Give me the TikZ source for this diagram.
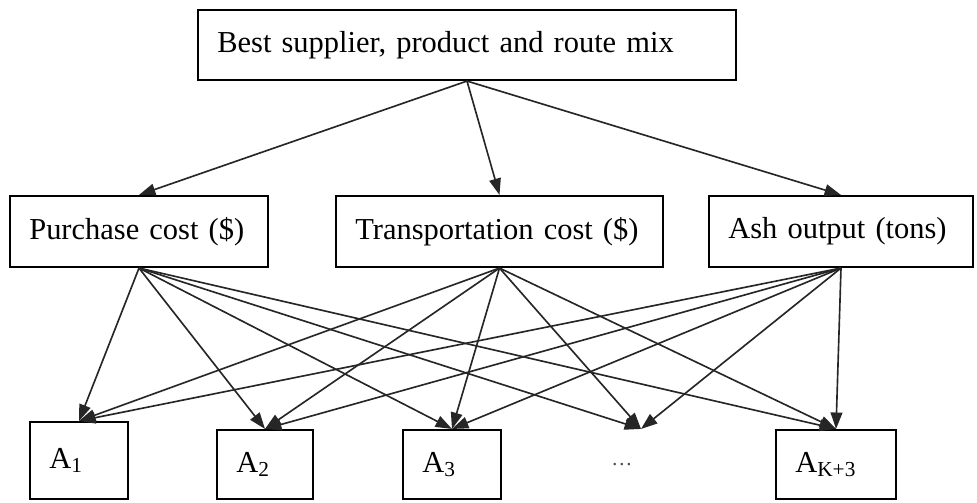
\documentclass[tikz,border=0pt]{standalone}
\usepackage{fontspec}
\setmainfont{Liberation Serif}
\usetikzlibrary{arrows.meta,positioning}

\begin{document}
\begin{tikzpicture}[x=0.15mm, y=-0.15mm,
    crit/.style 2 args={draw, line width=0.9pt, inner xsep=2.9mm, text width=#1,
        minimum height=#2, align=left, font=\fontsize{13}{15}\selectfont},
    link/.style={-{Triangle[length=7pt,width=5pt]}, line width=0.7pt, black!85}]
    \useasboundingbox (0,0) rectangle (977,502);

    % 目标层
    \node[crit={74.9mm}{10.5mm}] (goal) at (467,45) {Best supplier, product and route mix};

    % 准则层
    \node[crit={32.9mm}{10.65mm}] (purchase) at (139,231.5) {Purchase cost (\$)};
    \node[crit={43.25mm}{10.65mm}] (trans) at (499.5,231.5) {Transportation cost (\$)};
    \node[crit={33.8mm}{10.65mm}] (ash) at (841,231.5) {Ash output (tons)};

    % 方案层
    \node[crit={8.9mm}{11.55mm}] (a1) at (79,460.5) {A\textsubscript{1}};
    \node[crit={8.6mm}{10.35mm}] (a2) at (265,464.5) {A\textsubscript{2}};
    \node[crit={8.9mm}{10.35mm}] (a3) at (452,464.5) {A\textsubscript{3}};
    \node[crit={8.9mm}{10.35mm}, draw=none, text=black!70] (adots) at (641,464.5)
        {\fontsize{9}{11}\selectfont\dots};
    \node[crit={12.2mm}{10.35mm}] (ak) at (836,464.5) {A\textsubscript{K+3}};

    % 目标 -> 准则
    \foreach \c in {purchase,trans,ash}
        \draw[link] (goal.south) -- (\c.north);

    % 准则 -> 方案
    \foreach \c in {purchase,trans,ash}
        \foreach \a in {a1,a2,a3,adots,ak}
            \draw[link] (\c.south) -- (\a.north);
\end{tikzpicture}
\end{document}
